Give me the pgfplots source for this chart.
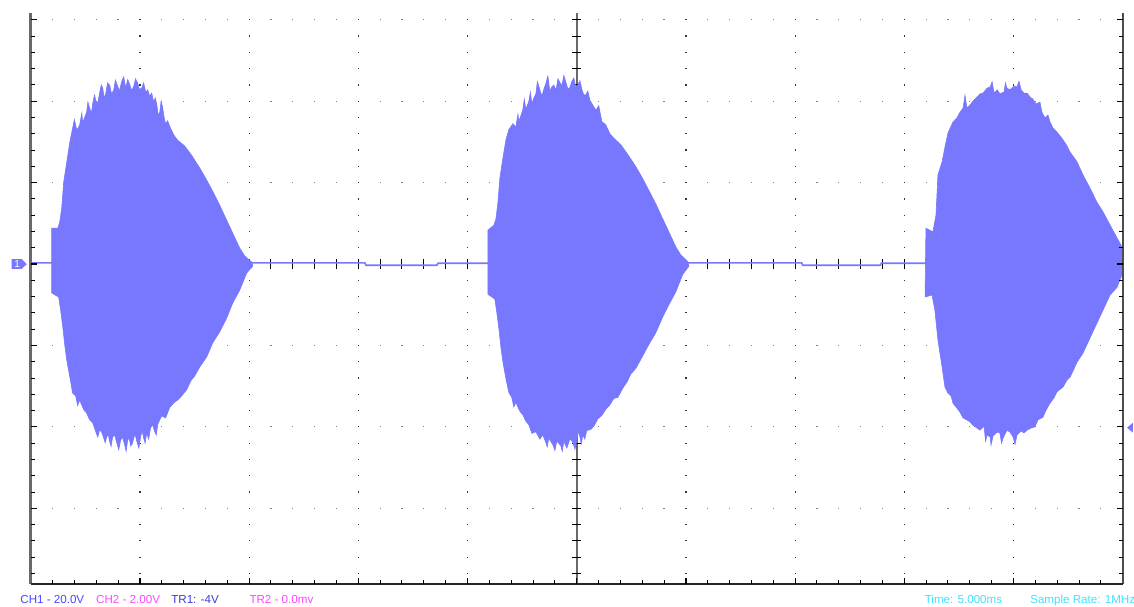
\documentclass[border=0pt]{standalone}
\usepackage{pgfplots}
\pgfplotsset{compat=1.18}
\usepackage{fontspec}
\setmainfont{Liberation Sans}
\definecolor{sig}{RGB}{120,120,255}
\definecolor{axgray}{RGB}{105,105,105}
\definecolor{ch1}{RGB}{70,70,255}
\definecolor{ch2}{RGB}{255,70,255}
\definecolor{tr1}{RGB}{60,60,215}
\definecolor{cyanlbl}{RGB}{64,224,255}
\begin{document}
\begin{tikzpicture}
\path[use as bounding box] (-15.35pt,-11pt) rectangle (551.65pt,292pt);
\begin{axis}[
  at={(0,0)}, anchor=south west,
  scale only axis, width=546pt, height=285.35pt,
  xmin=0, xmax=50, ymin=-78.6, ymax=61.6,
  axis lines=none, clip=false,
]
% ---------- grid dots and center ticks (under the signal)
\pgfplotsextra{
  \foreach \yy in {-60,-40,-20,20,40,60} {
    \foreach \xx in {1,...,49} {
      \fill[black!50] ([shift={(-0.3pt,-0.3pt)}]axis cs:\xx,\yy) rectangle ([shift={(0.3pt,0.3pt)}]axis cs:\xx,\yy);
    }
  }
  \foreach \xx in {5,10,15,20,30,35,40,45} {
    \foreach \yy in {-76,-72,...,60} {
      \fill[black!80] ([shift={(-0.3pt,-0.3pt)}]axis cs:\xx,\yy) rectangle ([shift={(0.3pt,0.3pt)}]axis cs:\xx,\yy);
    }
  }
  \draw[axgray, line width=1.2pt] (axis cs:25,-78.6) -- (axis cs:25,61.6);
  \foreach \yy in {-76,-72,...,60} {
    \draw[black, line width=0.5pt] ([xshift=-2.2pt]axis cs:25,\yy) -- ([xshift=2.2pt]axis cs:25,\yy);
  }
  \foreach \xx in {1,...,49} {
    \draw[black, line width=0.5pt] ([yshift=-2.5pt]axis cs:\xx,0) -- ([yshift=2.5pt]axis cs:\xx,0);
  }
}
% ---------- baseline between bursts
\addplot[sig, line width=0.8pt] coordinates {
 (0,0.3) (15.3,0.3) (15.35,-0.3) (18.6,-0.3) (18.65,0.2) (22,0.2)
 (29,0.3) (35.3,0.3) (35.35,-0.3) (38.9,-0.3) (38.95,0.2) (42,0.2)
};
% ---------- burst 1
\addplot[fill=sig, draw=sig, line width=0.3pt] coordinates {
 (0.96,8.8) (1.24,8.8) (1.33,10.3) (1.42,13.7) (1.51,20.1) (1.65,25.0) (1.79,29.9)
 (1.92,33.4) (2.00,35.5) (2.11,32.9) (2.24,34.1) (2.34,37.1) (2.38,34.8) (2.47,36.0)
 (2.56,37.3) (2.62,39.8) (2.70,38.3) (2.78,37.0) (2.84,39.5) (2.92,41.5) (2.98,40.2)
 (3.07,39.5) (3.16,42.2) (3.23,44.0) (3.30,43.2) (3.36,40.8) (3.43,41.7) (3.52,44.5)
 (3.62,43.9) (3.70,41.8) (3.80,42.7) (3.88,45.2) (3.98,43.7) (4.06,42.5) (4.17,44.9)
 (4.26,46.0) (4.35,43.2) (4.44,45.3) (4.53,44.2) (4.62,42.6) (4.72,43.7) (4.80,45.5)
 (4.90,44.4) (4.98,42.9) (5.08,43.2) (5.17,44.5) (5.27,42.2) (5.36,42.8) (5.45,41.2)
 (5.54,42.0) (5.63,39.8) (5.70,40.8) (5.77,39.3) (5.84,36.5) (5.91,37.3) (5.97,40.0)
 (6.04,38.5) (6.11,36.0) (6.18,34.4) (6.27,35.2) (6.36,33.9)
 (6.55,31.7) (6.73,30.4) (7.05,29.0) (7.37,26.7) (7.74,23.6) (8.06,20.6)
 (8.38,17.4) (8.65,14.5) (8.97,10.8) (9.25,7.6) (9.57,3.9) (9.80,2.0) (10.12,0.5)
 (10.17,-0.5) (9.89,-2.2) (9.57,-6.4) (9.25,-9.6) (8.97,-13.3) (8.65,-16.7) (8.33,-19.4)
 (8.06,-22.8) (7.74,-25.3) (7.51,-27.5) (7.33,-28.7) (7.14,-30.9) (6.91,-32.4) (6.73,-33.4)
 (6.55,-34.1) (6.36,-35.3) (6.18,-37.8) (6.00,-37.3) (5.82,-39.3)
 (5.75,-42.0) (5.68,-41.2) (5.58,-39.5) (5.49,-40.2) (5.40,-43.0) (5.31,-41.5) (5.24,-44.0)
 (5.17,-42.7) (5.10,-41.0) (5.04,-42.2) (4.95,-45.2) (4.85,-43.4) (4.78,-41.8) (4.72,-42.7)
 (4.65,-44.2) (4.58,-44.7) (4.51,-42.8) (4.44,-43.2) (4.37,-46.0) (4.30,-44.4) (4.21,-42.6)
 (4.12,-43.2) (4.03,-45.6) (3.94,-43.9) (3.85,-42.0) (3.75,-42.5) (3.68,-44.8) (3.62,-43.7)
 (3.55,-41.9) (3.48,-42.5) (3.41,-43.9) (3.34,-42.7) (3.25,-41.3) (3.16,-40.7) (3.07,-42.5)
 (2.98,-41.2) (2.84,-39.0) (2.70,-38.3) (2.56,-36.6) (2.43,-35.8) (2.24,-33.4)
 (2.15,-34.8) (2.06,-32.4) (1.92,-31.7) (1.79,-27.7) (1.65,-23.6) (1.56,-19.9) (1.47,-15.5)
 (1.37,-11.3) (1.28,-8.1) (0.96,-7.1)
} -- cycle;
% ---------- burst 2
\addplot[fill=sig, draw=sig, line width=0.3pt] coordinates {
 (20.93,8.3) (21.20,9.5) (21.30,11.0) (21.39,15.0) (21.48,21.0) (21.62,26.0) (21.76,30.5)
 (21.89,33.0) (22.08,34.5) (22.21,33.6) (22.31,36.8) (22.35,35.0) (22.53,37.8) (22.60,40.5)
 (22.67,38.0) (22.81,40.0) (22.88,42.2) (22.95,39.4) (23.04,40.8) (23.13,41.8) (23.20,44.8)
 (23.27,43.6) (23.40,41.2) (23.50,43.0) (23.59,44.4) (23.68,46.2) (23.77,42.5) (23.86,43.5)
 (23.95,44.0) (24.05,42.7) (24.14,45.5) (24.23,44.6) (24.32,43.8) (24.41,46.3) (24.50,44.8)
 (24.60,42.9) (24.69,43.4) (24.78,44.9) (24.87,45.7) (24.96,43.2) (25.05,44.0) (25.15,45.0)
 (25.24,42.8) (25.33,41.5) (25.42,41.6) (25.51,42.5) (25.60,40.3)
 (25.74,39.0) (25.88,37.8) (26.01,38.9) (26.15,35.0)
 (26.33,34.2) (26.52,32.0) (26.70,30.9) (27.02,29.3) (27.34,26.9) (27.71,23.9) (28.03,20.9)
 (28.35,17.6) (28.62,14.8) (28.94,11.1) (29.22,7.9) (29.54,4.2) (29.77,2.2) (30.09,0.6)
 (30.14,-0.5) (29.86,-2.5) (29.54,-6.8) (29.22,-10.0) (28.94,-13.0) (28.62,-16.9) (28.30,-19.8)
 (28.03,-22.5) (27.71,-25.6) (27.48,-27.0) (27.30,-29.0) (27.11,-30.5) (26.88,-32.8) (26.70,-33.0)
 (26.52,-34.6) (26.33,-35.7) (26.15,-37.2) (25.97,-38.0) (25.79,-39.8) (25.65,-40.6) (25.46,-40.9)
 (25.37,-43.0) (25.28,-42.0) (25.21,-44.2) (25.14,-42.3) (25.08,-41.0) (25.01,-43.0) (24.92,-45.5)
 (24.82,-43.8) (24.69,-42.9) (24.55,-45.2) (24.41,-43.6) (24.34,-46.0)
 (24.27,-44.6) (24.09,-43.5) (24.00,-45.8) (23.91,-44.4) (23.72,-42.8) (23.65,-44.9) (23.59,-43.9)
 (23.45,-42.0) (23.31,-43.0)
 (23.13,-41.2) (22.95,-41.6) (22.81,-39.5) (22.67,-38.6) (22.53,-37.0) (22.40,-36.2) (22.21,-34.0)
 (22.12,-35.1) (22.03,-32.8) (21.89,-31.5) (21.76,-28.2) (21.62,-24.0) (21.53,-20.5) (21.44,-16.0)
 (21.34,-11.8) (21.25,-8.6) (20.93,-7.4)
} -- cycle;
% ---------- burst 3
\addplot[fill=sig, draw=sig, line width=0.3pt] coordinates {
 (40.99,8.8) (41.31,7.9) (41.45,12.0) (41.54,21.9) (41.73,25.1) (41.86,28.7) (42.00,32.2)
 (42.23,34.9) (42.41,35.9) (42.55,37.3) (42.69,38.3) (42.78,41.5) (42.87,38.3) (43.01,39.1)
 (43.19,40.3) (43.33,41.0) (43.47,41.8) (43.60,42.0) (43.79,43.2) (43.93,43.5) (44.02,44.8)
 (44.11,42.0) (44.25,42.8) (44.38,41.8) (44.57,42.3) (44.63,44.5) (44.70,43.2) (44.84,42.8)
 (45.02,43.7) (45.16,43.5) (45.25,44.9) (45.35,42.8) (45.48,42.0) (45.62,42.0) (45.76,41.0)
 (45.89,40.5) (46.03,39.3) (46.21,39.8)
 (46.30,37.3) (46.44,35.9) (46.58,36.6) (46.67,34.9) (46.81,33.4) (46.99,32.4) (47.13,31.5)
 (47.27,30.5) (47.45,29.0) (47.59,27.5) (47.91,25.1) (48.18,21.9) (48.50,18.7) (48.82,15.2)
 (49.10,12.8) (49.42,9.6) (49.74,6.4) (50.00,3.9)
 (50.00,-2.2) (49.74,-5.7) (49.42,-7.6) (49.10,-11.3) (48.82,-14.5) (48.50,-18.2) (48.18,-21.9)
 (47.91,-24.1) (47.59,-27.8) (47.45,-28.5) (47.27,-30.2) (46.99,-31.4) (46.85,-32.9) (46.67,-34.2)
 (46.49,-35.9) (46.35,-37.6) (46.12,-38.3) (45.98,-40.0) (45.80,-40.3) (45.62,-40.8) (45.48,-41.5)
 (45.35,-41.0) (45.16,-42.0) (45.07,-44.3) (44.98,-42.5) (44.84,-41.3) (44.70,-40.8) (44.52,-42.8)
 (44.45,-44.0) (44.38,-41.5)
 (44.25,-41.3) (44.06,-42.3) (43.97,-44.5) (43.93,-42.5) (43.79,-42.0) (43.72,-43.5) (43.65,-39.8)
 (43.47,-40.8)
 (43.33,-40.3) (43.14,-39.6) (43.01,-38.8) (42.87,-38.3) (42.69,-37.8) (42.55,-36.4) (42.41,-35.4)
 (42.23,-34.2) (42.14,-32.4) (42.00,-31.7) (41.86,-30.2) (41.73,-25.3) (41.54,-18.7) (41.40,-11.3)
 (41.27,-7.6) (40.95,-8.1)
} -- cycle;
% ---------- frame and ticks (over the signal)
\pgfplotsextra{
  \draw[axgray, line width=1.25pt] (axis cs:0,-78.6) -- (axis cs:0,61.6);
  \draw[black!70, line width=0.9pt] (axis cs:50,-78.6) -- (axis cs:50,61.6);
  \draw[black!85, line width=1pt] (axis cs:0,-78.6) -- (axis cs:50,-78.6);
  \foreach \yy in {-76,-72,...,60} {
    \draw[black, line width=0.5pt] (axis cs:0,\yy) -- ([xshift=2pt]axis cs:0,\yy);
    \draw[black, line width=0.5pt] (axis cs:50,\yy) -- ([xshift=-2pt]axis cs:50,\yy);
  }
  \foreach \yy in {-60,-40,...,60} {
    \draw[black, line width=0.6pt] (axis cs:0,\yy) -- ([xshift=3pt]axis cs:0,\yy);
    \draw[black, line width=0.6pt] (axis cs:50,\yy) -- ([xshift=-3pt]axis cs:50,\yy);
  }
  \foreach \xx in {1,...,49} {
    \draw[black, line width=0.5pt] (axis cs:\xx,-78.6) -- ([yshift=2pt]axis cs:\xx,-78.6);
  }
  \foreach \xx in {5,10,...,45} {
    \draw[black, line width=0.6pt] (axis cs:\xx,-78.6) -- ([yshift=3pt]axis cs:\xx,-78.6);
  }
}
% ---------- markers
\fill[sig] (axis cs:-0.87,1.2) -- (axis cs:-0.41,1.2) -- (axis cs:-0.18,0)
  -- (axis cs:-0.41,-1.2) -- (axis cs:-0.87,-1.2) -- cycle;
\node[text=white, font=\fontsize{5}{5}\selectfont, inner sep=0pt] at (axis cs:-0.62,0) {1};
\fill[sig] (axis cs:50.2,-40.2) -- (axis cs:50.47,-38.97) -- (axis cs:50.47,-41.43) -- cycle;
% ---------- status line
\node[anchor=base west, inner sep=0pt, text=ch1, font=\fontsize{5.8}{7}\selectfont] at (axis cs:-0.49,-83.3) {CH1 - 20.0V};
\node[anchor=base west, inner sep=0pt, text=ch2, font=\fontsize{5.8}{7}\selectfont] at (axis cs:2.98,-83.3) {CH2 - 2.00V};
\node[anchor=base west, inner sep=0pt, text=tr1, font=\fontsize{5.8}{7}\selectfont] at (axis cs:6.42,-83.3) {TR1: -4V};
\node[anchor=base west, inner sep=0pt, text=ch2, font=\fontsize{5.8}{7}\selectfont] at (axis cs:10.0,-83.3) {TR2 - 0.0mv};
\node[anchor=base west, inner sep=0pt, text=cyanlbl, font=\fontsize{5.8}{7}\selectfont] at (axis cs:40.92,-83.3) {Time: 5.000ms};
\node[anchor=base west, inner sep=0pt, text=cyanlbl, font=\fontsize{5.8}{7}\selectfont] at (axis cs:45.75,-83.3) {Sample Rate: 1MHz};
\end{axis}
\end{tikzpicture}
\end{document}
